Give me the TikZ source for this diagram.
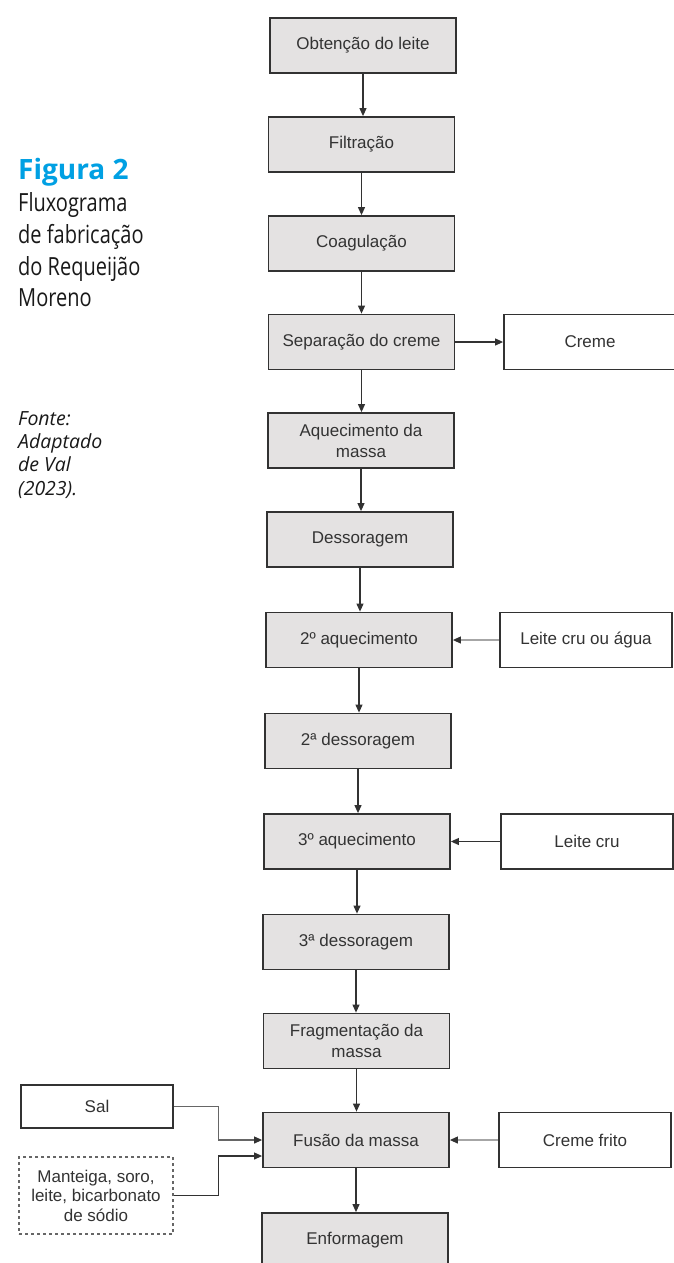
\documentclass[tikz,border=0pt]{standalone}
\usepackage{fontspec}
\setmainfont{Liberation Sans}
\newfontfamily\capfont[FakeStretch=0.8]{Open Sans}
\newfontfamily\figfont{Open Sans}
\usetikzlibrary{arrows.meta}
\definecolor{figblue}{RGB}{0,160,227}
\definecolor{boxgray}{RGB}{228,226,226}
\definecolor{linedark}{RGB}{50,50,50}
\tikzset{
  stage/.style={draw=linedark, line width=1.8pt, fill=boxgray, minimum width=186pt,
    minimum height=55pt, align=center, text=black!80,
    font=\fontsize{17}{21}\selectfont},
  extra/.style={stage, fill=white, minimum width=172pt},
  flow/.style={->, line width=1.1pt, draw=linedark},
  faint/.style={flow, draw=black!35},
}

\begin{document}
\begin{tikzpicture}[x=1pt, y=-1pt, >={Triangle[length=8pt, width=7pt, color=linedark]}]
 \useasboundingbox[fill=white] (0,0) rectangle (674,1263);

 \node[anchor=base west, inner sep=0, align=left, text=black!90,
   font=\capfont\fontsize{25}{31.7}\selectfont] (title) at (18,306.7)
   {{\figfont\bfseries\fontsize{28}{31.7}\selectfont\color{figblue}Figura 2}\\Fluxograma\\de fabricação\\do Requeijão\\Moreno};
 \node[anchor=base west, inner sep=0, align=left, text=black!90,
   font=\figfont\itshape\fontsize{19.5}{23.3}\selectfont] (fonte) at (18,495)
   {Fonte:\\Adaptado\\de Val\\(2023).};

 \node[stage] (obt)   at (363,45.5)  {Obtenção do leite};
 \node[stage] (filt)  at (361.5,144.5) {Filtração};
 \node[stage] (coag)  at (361.5,243.5) {Coagulação};
 \node[stage] (sep)   at (361.5,342) {Separação do creme};
 \node[stage] (aq)    at (361,440.5) {Aquecimento da\\massa};
 \node[stage] (dess)  at (360,539.5) {Dessoragem};
 \node[stage] (aqb)   at (359,640)   {2º aquecimento};
 \node[stage] (dessb) at (358,741)   {2ª dessoragem};
 \node[stage] (aqc)   at (357,841.5) {3º aquecimento};
 \node[stage] (dessc) at (356,942)   {3ª dessoragem};
 \node[stage] (frag)  at (356.5,1041) {Fragmentação da\\massa};
 \node[stage] (fus)   at (356,1140)  {Fusão da massa};
 \node[stage] (enf)   at (355,1240.5) {Enformagem};

 \node[extra] (creme)  at (590,342)   {Creme};
 \node[extra] (leitea) at (586,640)   {Leite cru ou água};
 \node[extra] (leiteb) at (587,841.5) {Leite cru};
 \node[extra] (frito)  at (585,1140)  {Creme frito};
 \node[extra, minimum width=152pt, minimum height=43pt] (sal) at (97,1106.5) {Sal};
 \node[extra, dashed, draw=black!60, line width=1.4pt, minimum width=154pt, minimum height=77pt,
   font=\fontsize{17}{19.5}\selectfont] (mant) at (96,1195.5)
   {Manteiga, soro,\\leite, bicarbonato\\de sódio};

 \path[flow]
  (obt) edge (obt |- filt.north)
  (filt) edge (filt |- coag.north)
  (coag) edge (coag |- sep.north)
  (sep) edge (sep |- aq.north)
  (aq) edge (aq |- dess.north)
  (dess) edge (dess |- aqb.north)
  (aqb) edge (aqb |- dessb.north)
  (dessb) edge (dessb |- aqc.north)
  (aqc) edge (aqc |- dessc.north)
  (dessc) edge (dessc |- frag.north)
  (frag) edge (frag |- fus.north)
  (fus) edge (fus |- enf.north)
  (sep) edge (creme)
  (leiteb) edge (aqc)
  ;
 \path[faint]
  (leitea) edge (aqb)
  (frito) edge (fus)
  ;
 \draw[flow, draw=black!60] (sal.east) -- ++(45,0) |- (fus.west);
 \draw[flow] (mant.east) -- ++(45,0) |- ([yshift=-16pt]fus.west);
\end{tikzpicture}
\end{document}
